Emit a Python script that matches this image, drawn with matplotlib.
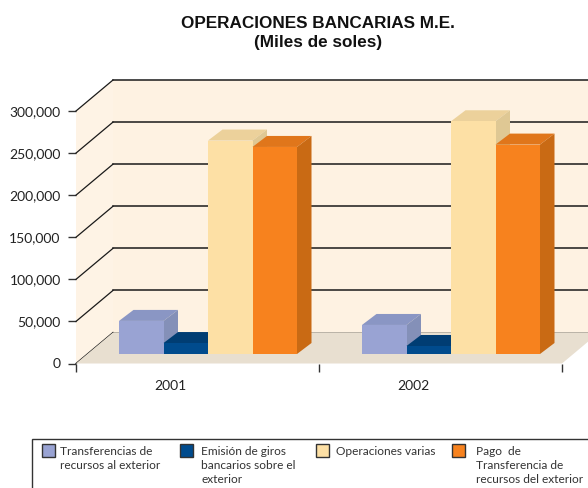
import numpy as np
import matplotlib.pyplot as plt
from matplotlib.patches import Polygon, Rectangle

years = ['2001', '2002']
transferencias = [39300, 34500]
emision = [13000, 9500]
varias = [253600, 276500]
pago = [246000, 248800]
yticks = [0, 50000, 100000, 150000, 200000, 250000, 300000]
series = [transferencias, emision, varias, pago]
legend_labels = ['Transferencias de\nrecursos al exterior',
                 'Emisión de giros\nbancarios sobre el\nexterior',
                 'Operaciones varias',
                 'Pago  de\nTransferencia de\nrecursos del exterior']

# front, top, side
colors = [('#99A3D3', '#8A96C4', '#8490B8'),
          ('#004B8D', '#003D73', '#003D73'),
          ('#FDE0A5', '#ECD19B', '#DFC894'),
          ('#F7821E', '#E0761B', '#C96A14')]

W, H = 588, 488
fig = plt.figure(figsize=(W/100, H/100), dpi=100)
plt.rcParams['font.family'] = ['Lato', 'DejaVu Sans']

# axes box = front edge of the 3d floor, in pixels
x0, x1, y0, y1 = 76, 562, 363.5, 111
ax = fig.add_axes([x0/W, 1-y0/H, (x1-x0)/W, (y0-y1)/H])
ax.set_xlim(0, 2)
ax.set_ylim(0, 300000)
ax.patch.set_visible(False)

ux = (x1-x0)/2            # px per category
uy = (y0-y1)/300000       # px per unit

# wall depth
dx = 37/ux
dy = 31/uy
# bar depth
bdx = 14.5/ux
bdy = 11/uy
# bar placement
bar_w = 44.5/ux
bar_start = 43/ux
bar_base = 9.5/uy

top = yticks[-1]
wall = '#FEF2E2'
ax.add_patch(Polygon([(0, 0), (dx, dy), (dx, top+dy), (0, top)], fc='#FEF3E5', ec='none', clip_on=False, zorder=1))
ax.add_patch(Polygon([(dx, dy), (2+dx, dy), (2+dx, top+dy), (dx, top+dy)], fc=wall, ec='none', clip_on=False, zorder=1))
for v in yticks:
    c = '#6E6A64' if v == 0 else '#1A1A1A'
    ax.plot([dx, 2+dx], [v+dy, v+dy], color=c, lw=1.1, clip_on=False, zorder=2)
    ax.plot([0, dx], [v, v+dy], color='#1A1A1A', lw=0.9, clip_on=False, zorder=2)
ax.add_patch(Polygon([(0, 0), (2, 0), (2+dx, dy), (dx, dy)], fc='#E8DFD0', ec='none', clip_on=False, zorder=3))

z = 4
for g in range(len(years)):
    for s in range(len(series)):
        left = g + bar_start + s*bar_w
        h = series[s][g] + bar_base
        front, tp, side = colors[s]
        ax.add_patch(Polygon([(left, h), (left+bar_w, h), (left+bar_w+bdx, h+bdy), (left+bdx, h+bdy)],
                             fc=tp, ec='none', clip_on=False, zorder=z))
        ax.add_patch(Polygon([(left+bar_w, bar_base), (left+bar_w+bdx, bar_base+bdy), (left+bar_w+bdx, h+bdy), (left+bar_w, h)],
                             fc=side, ec='none', clip_on=False, zorder=z))
        ax.bar(left, series[s][g], bar_w, bottom=bar_base, align='edge', color=front, clip_on=False, zorder=z+1)
        z += 2

for sp in ax.spines.values():
    sp.set_visible(False)
ax.set_xticks([0, 1, 2])
ax.set_xticklabels([])
ax.tick_params(axis='x', length=6, width=1, color='#333333')
ax.set_yticks(yticks)
ax.set_yticklabels([f'{v:,}' for v in yticks], fontsize=10, color='#222222')
ax.tick_params(axis='y', length=6, width=1, color='#333333', pad=5)
for i, yr in enumerate(years):
    ax.text(i+0.39, -23/uy, yr, ha='center', va='center', fontsize=10, color='#222222')

fig.text(318/W, 1-23.5/H, 'OPERACIONES BANCARIAS M.E.', ha='center', va='center',
         fontsize=12.35, fontweight='bold', family='Liberation Sans', color='#111111')
fig.text(318/W, 1-42/H, '(Miles de soles)', ha='center', va='center',
         fontsize=12.35, fontweight='bold', family='Liberation Sans', color='#111111')

# legend box runs off the bottom and right edge of the picture
fig.add_artist(Rectangle((32/W, -10/H), 580/W, (10+H-439)/H, transform=fig.transFigure,
                         fc='white', ec='#333333', lw=1))
swatch_x = [42, 180, 316, 452]
text_x = [60, 201, 336, 476]
for i in range(4):
    fig.add_artist(Rectangle((swatch_x[i]/W, 1-457/H), 13/W, 13/H, transform=fig.transFigure,
                             fc=colors[i][0], ec='#333333', lw=1))
    fig.text(text_x[i]/W, 1-446/H, legend_labels[i], ha='left', va='top', fontsize=8.6,
             color='#333333', linespacing=1.33)

fig.savefig('out.png', dpi=100)
